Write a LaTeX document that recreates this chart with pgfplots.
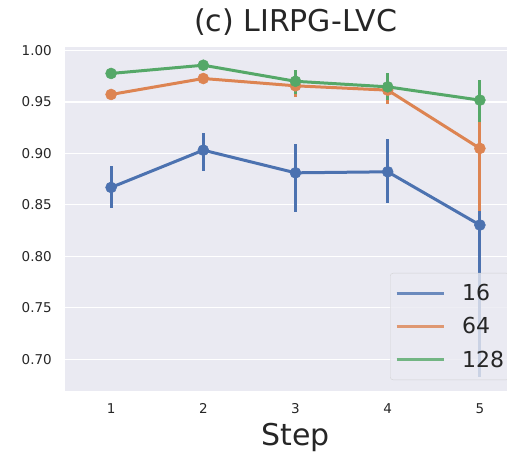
\documentclass[border=0pt]{standalone}
\usepackage{fontspec}
\setmainfont{DejaVu Sans}
\usepackage{pgfplots}
\pgfplotsset{compat=1.18}
\definecolor{sbblue}{HTML}{4C72B0}
\definecolor{sborange}{HTML}{DD8452}
\definecolor{sbgreen}{HTML}{55A868}
\definecolor{sbbg}{HTML}{EAEAF2}
\definecolor{sbtext}{HTML}{262626}
\begin{document}
\begin{tikzpicture}
\begin{axis}[
  at={(0pt,0pt)}, anchor=south west,
  scale only axis, width=461pt, height=343.7pt,
  xmin=-0.5, xmax=4.5, ymin=0.6695, ymax=1.0033,
  axis background/.style={fill=sbbg},
  axis line style={draw=none},
  major tick length=0pt,
  ymajorgrids, grid style={white, line width=1.3pt},
  xtick={0,1,2,3,4}, xticklabels={1,2,3,4,5},
  ytick={0.70,0.75,0.80,0.85,0.90,0.95,1.00},
  yticklabel style={font=\fontsize{13.5}{16}\selectfont, text=sbtext, inner sep=0pt, anchor=east, xshift=-13pt},
  xticklabel style={font=\fontsize{13.5}{16}\selectfont, text=sbtext, inner sep=0pt, anchor=north, yshift=-13pt},
  /pgf/number format/.cd, fixed, fixed zerofill, precision=2, assume math mode=true,
  /pgfplots/.cd,
  title={(c) LIRPG-LVC},
  title style={font=\fontsize{30}{36}\selectfont, text=sbtext, at={(axis description cs:0.5,1)}, anchor=base, yshift=9pt, inner sep=0pt},
  xlabel={Step},
  xlabel style={font=\fontsize{30}{36}\selectfont, text=sbtext, at={(axis description cs:0.5,0)}, anchor=base, yshift=-54.3pt, inner sep=0pt},
  legend cell align=left,
  legend image code/.code={\draw[#1, line width=3pt] (0pt,0pt) -- (47pt,0pt);},
  legend style={at={(0.705,0.031)}, anchor=south west, draw=black!20, fill=sbbg, fill opacity=0.8, draw opacity=0.8, text opacity=1, rounded corners=3pt, font=\fontsize{22}{26}\selectfont, text=sbtext, inner xsep=5pt, inner ysep=11pt, nodes={inner sep=0pt}, column sep=17pt, row sep=15.6pt},
]
\addplot[sbblue, line width=3pt, mark=*, mark size=5.5pt, mark options={solid, line width=0.5pt},
  error bars/.cd, y dir=both, y explicit, error mark=none, error bar style={line width=3pt, sbblue}]
coordinates {
(0,0.8669) += (0,0.0210) -= (0,0.0203)
(1,0.9031) += (0,0.0169) -= (0,0.0203)
(2,0.8811) += (0,0.0279) -= (0,0.0378)
(3,0.8821) += (0,0.0317) -= (0,0.0301)
(4,0.8304) += (0,0.0996) -= (0,0.1474)
};
\addlegendentry{16}
\addplot[sborange, line width=3pt, mark=*, mark size=5.5pt, mark options={solid, line width=0.5pt},
  error bars/.cd, y dir=both, y explicit, error mark=none, error bar style={line width=3pt, sborange}]
coordinates {
(0,0.9572) += (0,0.0040) -= (0,0.0040)
(1,0.9727) += (0,0.0030) -= (0,0.0030)
(2,0.9656) += (0,0.0104) -= (0,0.0110)
(3,0.9614) += (0,0.0116) -= (0,0.0134)
(4,0.9048) += (0,0.0502) -= (0,0.0608)
};
\addlegendentry{64}
\addplot[sbgreen, line width=3pt, mark=*, mark size=5.5pt, mark options={solid, line width=0.5pt},
  error bars/.cd, y dir=both, y explicit, error mark=none, error bar style={line width=3pt, sbgreen}]
coordinates {
(0,0.9776) += (0,0.0030) -= (0,0.0030)
(1,0.9856) += (0,0.0030) -= (0,0.0030)
(2,0.9700) += (0,0.0108) -= (0,0.0120)
(3,0.9646) += (0,0.0130) -= (0,0.0126)
(4,0.9517) += (0,0.0193) -= (0,0.0211)
};
\addlegendentry{128}
\end{axis}
\pgfresetboundingbox
\useasboundingbox (-65pt,-60.3pt) rectangle (442pt,390.7pt);
\end{tikzpicture}
\end{document}
